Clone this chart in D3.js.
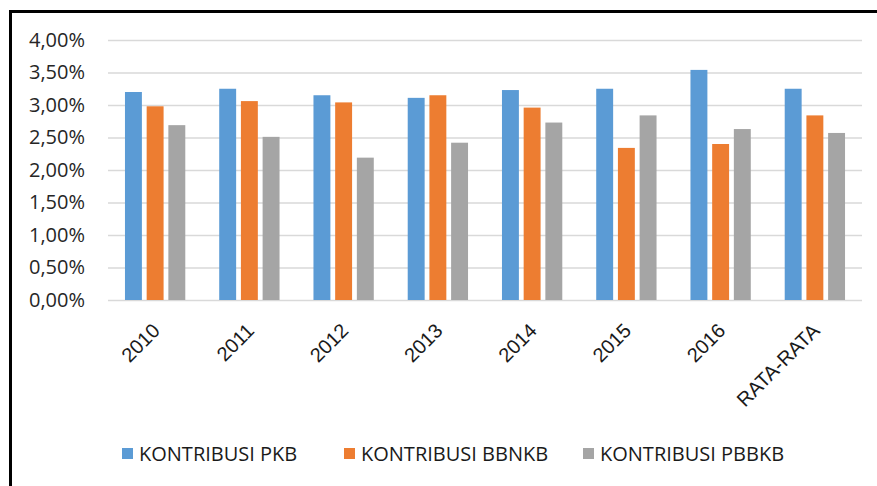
<!DOCTYPE html>
<html>
<head>
<meta charset="utf-8">
<script src="https://cdn.jsdelivr.net/npm/d3@7"></script>
<style>
  html, body { margin: 0; padding: 0; background: #fff; }
  svg { display: block; font-family: "Open Sans", "Liberation Sans", sans-serif; }
</style>
</head>
<body>
<svg id="chart" width="877" height="486"></svg>
<script>
// ---- data ----
const categories = ["2010", "2011", "2012", "2013", "2014", "2015", "2016", "RATA-RATA"];
const seriesNames = ["KONTRIBUSI PKB", "KONTRIBUSI BBNKB", "KONTRIBUSI PBBKB"];
const pkb   = [0.0320, 0.0325, 0.0315, 0.0311, 0.0323, 0.0325, 0.0354, 0.0325];
const bbnkb = [0.0298, 0.0306, 0.0304, 0.0315, 0.0296, 0.0234, 0.0240, 0.0284];
const pbbkb = [0.0269, 0.0251, 0.0219, 0.0242, 0.0273, 0.0284, 0.0263, 0.0257];
const yTicks = [0, 0.005, 0.01, 0.015, 0.02, 0.025, 0.03, 0.035, 0.04];
const colors = ["#5B9BD5", "#ED7D31", "#A5A5A5"];

const seriesValues = [pkb, bbnkb, pbbkb];

const svg = d3.select("#chart");
const W = 877, H = 486;
const plot = { left: 108, right: 862, top: 40, bottom: 300 };

const locale = d3.formatLocale({ decimal: ",", thousands: ".", grouping: [3], currency: ["", ""] });
const fmt = locale.format(".2%");

const y = d3.scaleLinear().domain([0, 0.04]).range([plot.bottom, plot.top]);
const x0 = d3.scaleBand().domain(categories).range([plot.left, plot.right])
  .paddingInner(0.36).paddingOuter(0.18);
const x1 = d3.scaleBand().domain(seriesNames).range([0, x0.bandwidth()]).paddingInner(0.22);

// gridlines
const grid = svg.append("g")
  .attr("transform", `translate(${plot.left},0)`)
  .call(d3.axisLeft(y).tickValues(yTicks).tickSize(-(plot.right - plot.left)).tickFormat(""));
grid.select(".domain").remove();
grid.selectAll("line").attr("stroke", "#d9d9d9").attr("stroke-width", 1.3);

// y labels
const yAxis = svg.append("g")
  .attr("transform", `translate(${plot.left},0)`)
  .call(d3.axisLeft(y).tickValues(yTicks).tickSize(0).tickPadding(23).tickFormat(fmt));
yAxis.select(".domain").remove();
yAxis.selectAll("text")
  .attr("fill", "#262626")
  .style("font-size", "20px")
  .style("font-family", "'Open Sans', sans-serif");

// bars
const groups = svg.append("g").selectAll("g")
  .data(categories)
  .join("g")
  .attr("transform", d => `translate(${x0(d)},0)`);

groups.selectAll("rect")
  .data((d, i) => seriesNames.map((s, j) => ({ s, j, v: seriesValues[j][i] })))
  .join("rect")
  .attr("x", d => x1(d.s))
  .attr("width", x1.bandwidth())
  .attr("y", d => y(d.v))
  .attr("height", d => y(0) - y(d.v))
  .attr("fill", d => colors[d.j]);

// x axis labels
const xAxis = svg.append("g")
  .attr("transform", `translate(0,${plot.bottom})`)
  .call(d3.axisBottom(x0).tickSize(0).tickPadding(0));
xAxis.select(".domain").remove();
xAxis.selectAll(".tick text")
  .attr("fill", "#1a1a1a")
  .style("font-size", "20px")
  .attr("text-anchor", "end")
  .attr("dy", 0)
  .attr("y", 0)
  .attr("transform", "translate(6,32) rotate(-45)");

// legend
const legendX = [122, 344, 583];
const legend = svg.append("g");
seriesNames.forEach((s, i) => {
  legend.append("rect")
    .attr("x", legendX[i]).attr("y", 448)
    .attr("width", 11).attr("height", 11)
    .attr("fill", colors[i]);
  legend.append("text")
    .attr("x", legendX[i] + 17).attr("y", 461)
    .attr("fill", "#1a1a1a")
    .style("font-size", "20px")
    .text(s);
});

// border (top and left visible)
svg.append("rect")
  .attr("x", 10.5).attr("y", 11.5)
  .attr("width", W + 20).attr("height", H + 20)
  .attr("fill", "none")
  .attr("stroke", "#000")
  .attr("stroke-width", 3);
</script>
</body>
</html>
